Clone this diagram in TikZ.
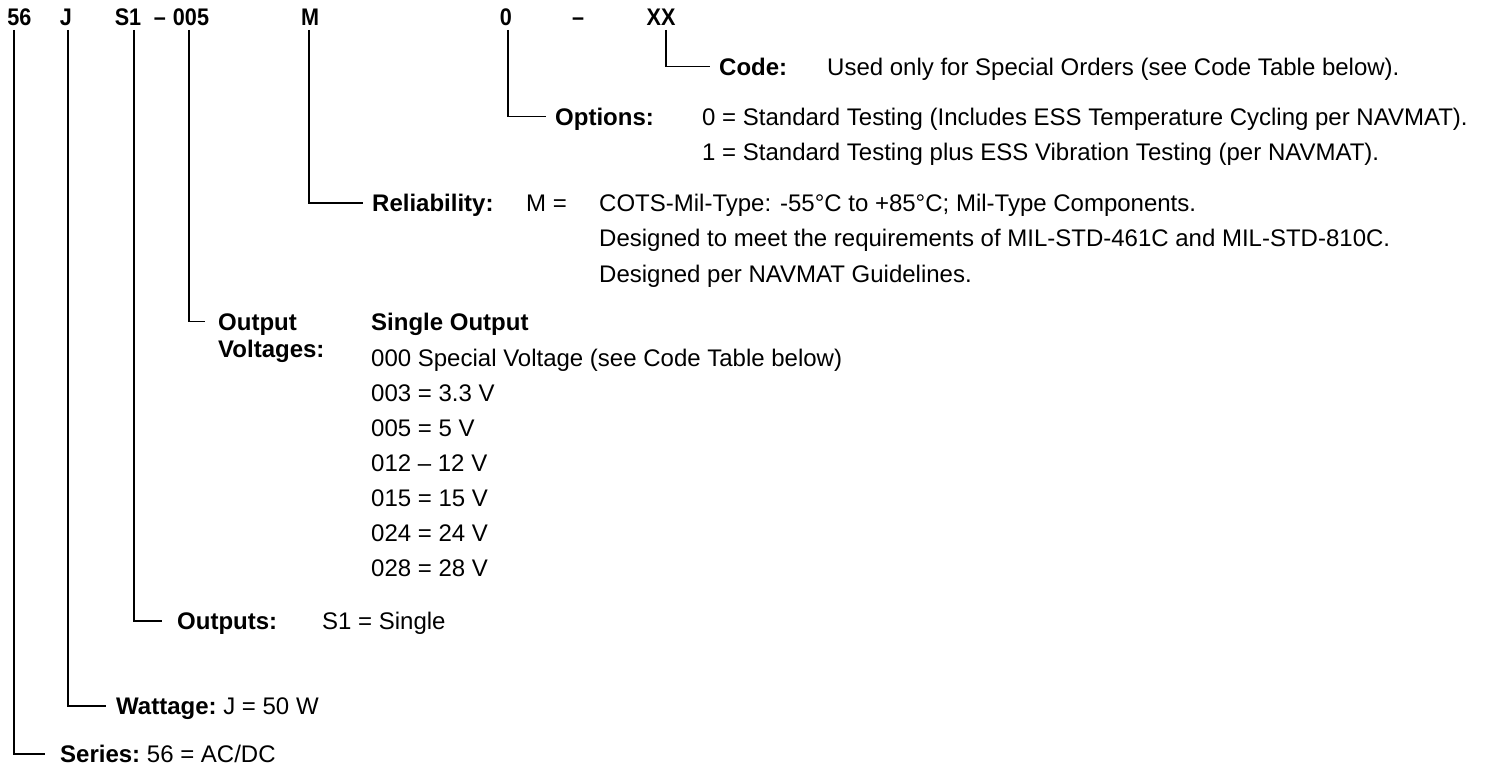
\documentclass[tikz,border=0pt]{standalone}
\usepackage{fontspec}
\setmainfont{Liberation Sans}
\newfontfamily\hdrfont[FakeStretch=0.9]{Liberation Sans}
\begin{document}
\begin{tikzpicture}[x=1pt,y=-1pt,
  hdr/.style={font=\fontsize{24}{28}\selectfont\hdrfont\bfseries, inner sep=0pt, anchor=base},
  lbl/.style={font=\fontsize{24}{28}\selectfont\bfseries, inner ysep=0pt, inner xsep=#1, text height=17pt, text depth=0pt, anchor=base west},
  lbl/.default=0pt,
  txt/.style={font=\fontsize{24}{28}\selectfont, inner sep=0pt, anchor=base west},
  btxt/.style={font=\fontsize{24}{28}\selectfont\bfseries, inner sep=0pt, anchor=base west},
  lead/.style={line width=2pt},
  leadthin/.style={line width=1.3pt}]
\useasboundingbox (0,0) rectangle (1486,768);

% header part number
\node[hdr] (h56) at (19.5,26) {56};
\node[hdr] (hJ) at (66,26) {J};
\node[hdr] (hS1) at (128,26) {S1};
\node[hdr] (hd1) at (160,26) {–};
\node[hdr] (h005) at (191,26) {005};
\node[hdr] (hM) at (310,26) {M};
\node[hdr] (h0) at (506,26) {0};
\node[hdr] (hd2) at (578,26) {–};
\node[hdr] (hXX) at (661,26) {XX};

% top points of leader lines
\coordinate (t56) at (14,30);
\coordinate (tJ) at (68,30);
\coordinate (tS1) at (134,30);
\coordinate (t005) at (189,30);
\coordinate (tM) at (309,30);
\coordinate (t0) at (508,30);
\coordinate (tXX) at (666,30);

% Code
\node[lbl=9pt] (code) at (710,75) {Code:};
\node[txt] (codet) at (827,75) {Used only for Special Orders (see Code Table below).};
% Options
\node[lbl=9pt] (opt) at (546,125) {Options:};
\node[txt] (opt0) at (702,125) {0 = Standard Testing (Includes ESS Temperature Cycling per NAVMAT).};
\node[txt] (opt1) at (702,160) {1 = Standard Testing plus ESS Vibration Testing (per NAVMAT).};
% Reliability
\node[lbl=9pt] (rel) at (363,211) {Reliability:};
\node[txt] (relm) at (526,211) {M =};
\node[txt] (rel1) at (599,211) {COTS-Mil-Type: -55°C to +85°C; Mil-Type Components.};
\node[txt] (rel2) at (599,246.5) {Designed to meet the requirements of MIL-STD-461C and MIL-STD-810C.};
\node[txt] (rel3) at (599,282) {Designed per NAVMAT Guidelines.};
% Output voltages
\node[lbl=13pt] (outv) at (205,330) {Output};
\node[btxt] (outv2) at (218,357) {Voltages:};
\node[btxt] (so) at (371,330) {Single Output};
\node[txt] (v0) at (371,366) {000 Special Voltage (see Code Table below)};
\node[txt] (v1) at (371,401) {003 = 3.3 V};
\node[txt] (v2) at (371,436) {005 = 5 V};
\node[txt] (v3) at (371,471) {012 – 12 V};
\node[txt] (v4) at (371,506) {015 = 15 V};
\node[txt] (v5) at (371,541) {024 = 24 V};
\node[txt] (v6) at (371,576) {028 = 28 V};
% Outputs
\node[lbl=15pt] (outs) at (162,629) {Outputs:};
\node[txt] (outst) at (322,629) {S1 = Single};
% Wattage
\node[lbl=10pt] (watt) at (106,714.5) {Wattage:\mdseries\ J = 50 W};
% Series
\node[lbl=15pt] (ser) at (45,762) {Series:\mdseries\ 56 = AC/DC};

% leader lines
\draw[lead] (t56) |- (ser.west);
\draw[lead] (tJ) |- (watt.west);
\draw[lead] (tS1) |- (outs.west);
\draw[leadthin] (t005) |- (outv.west);
\draw[lead] (tM) |- (rel.west);
\draw[leadthin] (t0) |- (opt.west);
\draw[leadthin] (tXX) |- (code.west);
\end{tikzpicture}
\end{document}
